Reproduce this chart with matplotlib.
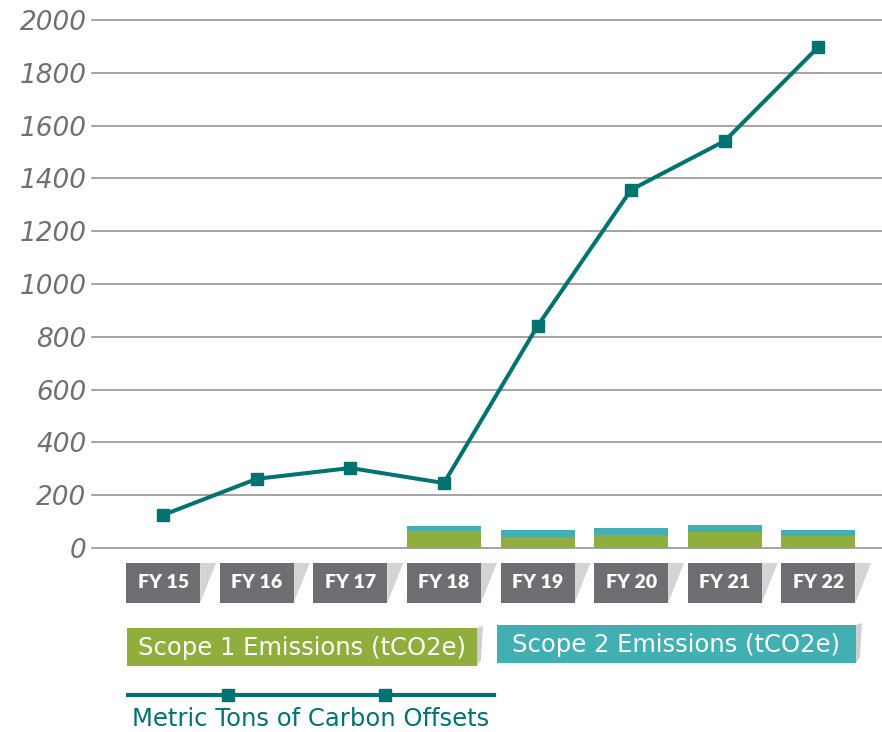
import matplotlib
matplotlib.use("Agg")
import matplotlib.pyplot as plt
from matplotlib.patches import Rectangle, Polygon
from matplotlib.lines import Line2D

# Data
years = ["FY 15", "FY 16", "FY 17", "FY 18", "FY 19", "FY 20", "FY 21", "FY 22"]
offsets = [125, 262, 303, 246, 841, 1357, 1542, 1898]
scope1 = [0, 0, 0, 64, 42, 49, 59, 44]
scope2 = [0, 0, 0, 19, 27, 26, 27, 26]
yticks = [0, 200, 400, 600, 800, 1000, 1200, 1400, 1600, 1800, 2000]

GREEN = "#8FAE3C"
TEAL = "#42AFB3"
LINE = "#007370"
GRAY = "#6D6E71"

W, H = 882, 732
fig = plt.figure(figsize=(W / 100, H / 100), dpi=100)


def fx(px):
    return px / W


def fy(py):
    return 1 - py / H


# axes: y=0 at pixel 548, y=2000 at pixel 20; x spans 92..882
ax = fig.add_axes([fx(92), fy(548), fx(882) - fx(92), (548 - 20) / H])
ax.set_xlim(-0.76, 7.68)
ax.set_ylim(0, 2000)
for s in ax.spines.values():
    s.set_visible(False)

for v in yticks:
    ax.axhline(v, color="#8a8a8a", lw=1.1, zorder=1, clip_on=False)

x = list(range(len(years)))
ax.bar(x, scope1, width=0.79, color=GREEN, zorder=2)
ax.bar(x, scope2, width=0.79, bottom=scope1, color=TEAL, zorder=2)
ax.plot(x, offsets, color=LINE, lw=2.9, marker="s", ms=8, zorder=3, clip_on=False)

ax.set_xticks([])
ax.set_yticks(yticks)
ax.set_yticklabels([str(v) for v in yticks], fontsize=19, style="italic",
                   color="#707073", family="DejaVu Sans")
ax.tick_params(axis="y", length=0, pad=4)

# FY label boxes below the axis, with a small shadow wedge on the right
trans = ax.get_xaxis_transform()
top = -15 / 528
bot = -55 / 528
half = 0.395
for i, lab in enumerate(years):
    shadow = Polygon([(i + half, top), (i + half + 0.17, top), (i + half, bot)],
                     closed=True, transform=trans, facecolor="#d4d4d4",
                     edgecolor="none", clip_on=False, zorder=1)
    ax.add_patch(shadow)
    box = Rectangle((i - half, bot), 2 * half, top - bot, transform=trans,
                    facecolor=GRAY, edgecolor="none", clip_on=False, zorder=2)
    ax.add_patch(box)
    ax.text(i, (top + bot) / 2, lab, transform=trans, ha="center", va="center",
            color="white", fontsize=14, fontweight="heavy", family="Lato",
            zorder=3)

# legend boxes
def legend_box(x0, y0, x1, y1, color, text):
    fig.add_artist(Polygon([(fx(x1), fy(y0)), (fx(x1 + 6), fy(y0 - 2)),
                            (fx(x1 + 4), fy(y1 - 6)), (fx(x1), fy(y1))],
                           closed=True, facecolor="#cfcfcf", edgecolor="none"))
    fig.add_artist(Rectangle((fx(x0), fy(y1)), fx(x1) - fx(x0), fy(y0) - fy(y1),
                             facecolor=color, edgecolor="none"))
    fig.text(fx((x0 + x1) / 2), fy((y0 + y1) / 2 + 1), text, ha="center",
             va="center", color="white", fontsize=17.5, family="DejaVu Sans")


legend_box(127, 628, 477, 666, GREEN, "Scope 1 Emissions (tCO2e)")
legend_box(497, 625, 856, 663, TEAL, "Scope 2 Emissions (tCO2e)")

fig.add_artist(Line2D([fx(128), fx(494)], [fy(695), fy(695)], color=LINE, lw=3))
fig.add_artist(Line2D([fx(228), fx(385)], [fy(695), fy(695)], color=LINE, lw=0,
                      marker="s", ms=8))
fig.text(fx(311), fy(719), "Metric Tons of Carbon Offsets", ha="center",
         va="center", color=LINE, fontsize=17.5, family="DejaVu Sans")

fig.savefig("out.png", dpi=100)
